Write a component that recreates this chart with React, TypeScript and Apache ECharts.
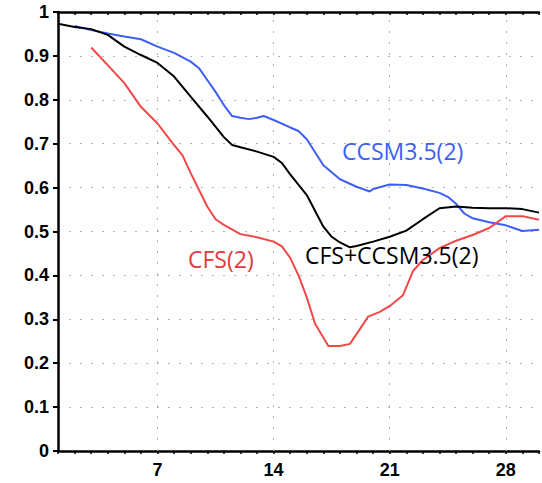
import React, { useEffect, useRef } from "react";
import * as echarts from "echarts";

const combDays = [1, 2, 3, 4, 5, 6, 7, 8, 9, 10, 11, 11.5, 12, 13, 14, 14.5, 15, 16, 17, 17.5, 18, 18.6, 19, 20, 21, 22, 23, 24, 25, 26, 27, 28, 29, 30];
const combVals = [0.973, 0.966, 0.961, 0.948, 0.921, 0.902, 0.884, 0.853, 0.807, 0.762, 0.715, 0.697, 0.692, 0.682, 0.670, 0.656, 0.630, 0.583, 0.511, 0.488, 0.475, 0.464, 0.467, 0.477, 0.488, 0.502, 0.528, 0.553, 0.557, 0.554, 0.553, 0.553, 0.551, 0.543];

const ccsmDays = [2, 3, 4, 5, 6, 7, 8, 9, 9.5, 10, 10.5, 11, 11.5, 12, 12.5, 13, 13.4, 14, 15, 15.5, 16, 17, 18, 19, 19.8, 20, 21, 22, 23, 24, 24.5, 25, 25.5, 26, 27, 28, 29, 30];
const ccsmVals = [0.968, 0.959, 0.951, 0.944, 0.938, 0.921, 0.907, 0.887, 0.872, 0.845, 0.818, 0.788, 0.763, 0.759, 0.756, 0.759, 0.763, 0.754, 0.737, 0.729, 0.710, 0.651, 0.619, 0.602, 0.591, 0.597, 0.607, 0.606, 0.598, 0.588, 0.579, 0.563, 0.541, 0.530, 0.521, 0.514, 0.501, 0.504];

const cfsDays = [3, 4, 5, 6, 7, 8, 8.5, 9, 10, 10.5, 11, 12, 13, 14, 14.5, 15, 15.5, 16, 16.5, 17.3, 18, 18.6, 19.1, 19.7, 20.4, 21.1, 21.8, 22.4, 23, 24, 25, 26, 27, 28, 29, 30];
const cfsVals = [0.919, 0.879, 0.838, 0.784, 0.746, 0.697, 0.674, 0.633, 0.557, 0.528, 0.515, 0.494, 0.487, 0.477, 0.466, 0.440, 0.400, 0.350, 0.290, 0.239, 0.239, 0.244, 0.272, 0.306, 0.317, 0.333, 0.355, 0.410, 0.435, 0.462, 0.479, 0.492, 0.508, 0.535, 0.535, 0.527];

const xLabelDays = [7, 14, 21, 28];

const seriesNames = ["CCSM3.5(2)", "CFS(2)", "CFS+CCSM3.5(2)"];

const zip = (xs: number[], ys: number[]) => xs.map((x, i) => [x, ys[i]]);

export default function App() {
  const ref = useRef<HTMLDivElement>(null);
  useEffect(() => {
    if (!ref.current) return;
    const chart = echarts.init(ref.current, null, { renderer: "svg" });
    const labelFont = { fontFamily: "Liberation Sans", fontWeight: "bold" as const, fontSize: 18, color: "#000" };
    chart.setOption({
      animation: false,
      backgroundColor: "#fff",
      grid: { left: 58, right: 0, top: 12, bottom: 32 },
      xAxis: [
        {
          type: "value",
          min: 1,
          max: 30,
          interval: 1,
          position: "bottom",
          axisLine: { show: true, lineStyle: { color: "#000", width: 2.5 } },
          axisTick: { show: true, length: 3, lineStyle: { color: "#000", width: 1.5 } },
          axisLabel: {
            ...labelFont,
            margin: 10,
            formatter: (v: number) => (xLabelDays.includes(v) ? String(v) : ""),
          },
          splitLine: { show: false },
        },
        {
          type: "value",
          min: 1,
          max: 30,
          interval: 1,
          position: "top",
          axisLine: { show: true, lineStyle: { color: "#000", width: 2.5 } },
          axisTick: { show: true, inside: true, length: 3, lineStyle: { color: "#000", width: 1.5 } },
          axisLabel: { show: false },
          splitLine: { show: false },
        },
      ],
      yAxis: {
        type: "value",
        min: 0,
        max: 1,
        interval: 0.1,
        axisLine: { show: true, lineStyle: { color: "#000", width: 2.5 } },
        axisTick: { show: true, length: 5, lineStyle: { color: "#000", width: 2 } },
        axisLabel: { ...labelFont, margin: 9 },
        splitLine: { show: true, lineStyle: { color: "#b4b4b4", width: 1, type: [2, 9] } },
      },
      series: [
        {
          name: seriesNames[0],
          type: "line",
          data: zip(ccsmDays, ccsmVals),
          showSymbol: false,
          lineStyle: { color: "#3d5ff3", width: 2 },
          itemStyle: { color: "#3d5ff3" },
          z: 3,
          markLine: {
            silent: true,
            symbol: "none",
            label: { show: false },
            lineStyle: { color: "#b4b4b4", width: 1, type: [2, 9] },
            data: xLabelDays.map((d) => ({ xAxis: d })),
            z: 1,
          },
        },
        {
          name: seriesNames[1],
          type: "line",
          data: zip(cfsDays, cfsVals),
          showSymbol: false,
          lineStyle: { color: "#f04848", width: 2 },
          itemStyle: { color: "#f04848" },
          z: 4,
        },
        {
          name: seriesNames[2],
          type: "line",
          data: zip(combDays, combVals),
          showSymbol: false,
          lineStyle: { color: "#000", width: 2 },
          itemStyle: { color: "#000" },
          z: 5,
        },
      ],
      graphic: [
        {
          type: "text",
          left: 342,
          top: 139,
          style: { text: seriesNames[0], fill: "#3d5ff3", font: "23px 'Open Sans'" },
          z: 10,
        },
        {
          type: "text",
          left: 188,
          top: 247,
          style: { text: seriesNames[1], fill: "#e03a3a", font: "23px 'Open Sans'" },
          z: 10,
        },
        {
          type: "text",
          left: 305,
          top: 243,
          style: { text: seriesNames[2], fill: "#000", font: "23px 'Open Sans'" },
          z: 10,
        },
      ],
    });
    return () => chart.dispose();
  }, []);
  return (
    <div
      ref={ref}
      style={{ position: "fixed", left: 0, top: 0, width: 542, height: 483, background: "#fff" }}
    />
  );
}
